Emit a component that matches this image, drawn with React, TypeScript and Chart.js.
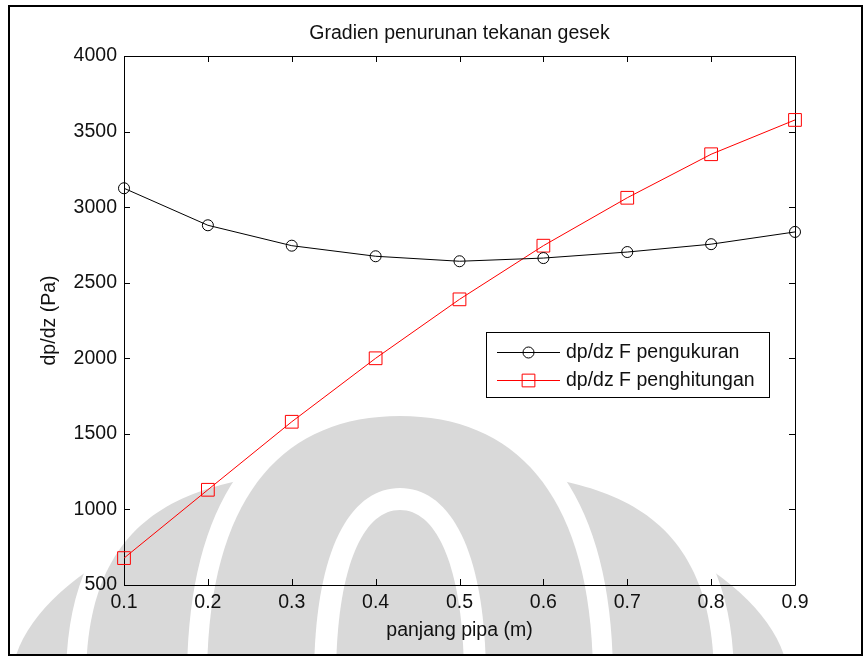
import React, { useEffect, useRef } from "react";
import { Chart, registerables } from "chart.js";

Chart.register(...registerables);

// Pipe length positions (m)
const pipeLength = [0.1, 0.2, 0.3, 0.4, 0.5, 0.6, 0.7, 0.8, 0.9];
// Measured friction pressure gradient (Pa)
const measured = [3125, 2880, 2745, 2675, 2642, 2663, 2703, 2755, 2836];
// Calculated friction pressure gradient (Pa)
const calculated = [678, 1130, 1580, 2000, 2390, 2745, 3062, 3350, 3577];

const seriesNames = ["dp/dz F pengukuran", "dp/dz F penghitungan"];
const titleText = "Gradien penurunan tekanan gesek";
const xLabelText = "panjang pipa (m)";
const yLabelText = "dp/dz (Pa)";

const X_MIN = 0.1;
const X_MAX = 0.9;
const Y_MIN = 500;
const Y_MAX = 4000;

const FONT_FAMILY = '"Liberation Sans", Arial, Helvetica, sans-serif';
const FONT_SIZE = 19.5;
const TEXT_COLOR = "#111";
const MARK_GRAY = "#d9d9d9";

// Symmetric dome outline used for the faded logo in the background.
function dome(
  ctx: CanvasRenderingContext2D,
  cx: number,
  yb: number,
  w: number,
  yt: number,
  c1y: number,
  k: number
) {
  ctx.beginPath();
  ctx.moveTo(cx - w, yb);
  ctx.bezierCurveTo(cx - w, c1y, cx - k, yt, cx, yt);
  ctx.bezierCurveTo(cx + k, yt, cx + w, c1y, cx + w, yb);
  ctx.closePath();
}

const backgroundLogo = {
  id: "backgroundLogo",
  beforeDraw(chart: Chart) {
    const ctx = chart.ctx;
    ctx.save();
    ctx.fillStyle = "#fff";
    ctx.fillRect(0, 0, chart.width, chart.height);
    ctx.beginPath();
    ctx.rect(10, 7, 852, 647);
    ctx.clip();
    const cx = 400;
    const yb = 680;
    // outer lobes
    ctx.fillStyle = MARK_GRAY;
    dome(ctx, cx, yb, 388, 485, 590, 220);
    ctx.fill();
    // middle lobes
    dome(ctx, cx, yb, 314, 470, 480, 170);
    ctx.strokeStyle = "#fff";
    ctx.lineWidth = 40;
    ctx.stroke();
    ctx.fill();
    // central dome
    dome(ctx, cx, yb, 193, 416, 500, 120);
    ctx.lineWidth = 40;
    ctx.stroke();
    ctx.fill();
    // inner arch
    dome(ctx, cx, yb, 86, 488, 550, 50);
    ctx.fillStyle = "#fff";
    ctx.fill();
    dome(ctx, cx, yb, 64, 510, 570, 38);
    ctx.fillStyle = MARK_GRAY;
    ctx.fill();
    ctx.restore();
  },
};

const axesFrame = {
  id: "axesFrame",
  beforeDatasetsDraw(chart: Chart) {
    const { ctx, chartArea: a, scales } = chart;
    const tick = 6;
    ctx.save();
    ctx.strokeStyle = "#000";
    ctx.lineWidth = 1;
    ctx.beginPath();
    ctx.rect(Math.round(a.left) + 0.5, Math.round(a.top) + 0.5, Math.round(a.right - a.left), Math.round(a.bottom - a.top));
    ctx.stroke();
    ctx.beginPath();
    for (const t of scales.x.ticks) {
      const px = Math.round(scales.x.getPixelForValue(t.value)) + 0.5;
      ctx.moveTo(px, a.bottom);
      ctx.lineTo(px, a.bottom - tick);
      ctx.moveTo(px, a.top);
      ctx.lineTo(px, a.top + tick);
    }
    for (const t of scales.y.ticks) {
      const py = Math.round(scales.y.getPixelForValue(t.value)) + 0.5;
      ctx.moveTo(a.left, py);
      ctx.lineTo(a.left + tick, py);
      ctx.moveTo(a.right, py);
      ctx.lineTo(a.right - tick, py);
    }
    ctx.stroke();
    ctx.restore();
  },
};

const legendBox = {
  id: "legendBox",
  afterDatasetsDraw(chart: Chart) {
    const ctx = chart.ctx;
    const x0 = 486;
    const y0 = 332;
    const w = 283;
    const h = 65;
    ctx.save();
    ctx.fillStyle = "#fff";
    ctx.fillRect(x0, y0, w, h);
    ctx.strokeStyle = "#000";
    ctx.lineWidth = 1;
    ctx.strokeRect(x0 + 0.5, y0 + 0.5, w, h);
    ctx.font = `${FONT_SIZE}px ${FONT_FAMILY}`;
    ctx.textBaseline = "middle";
    ctx.textAlign = "left";
    const rows = [y0 + 20, y0 + 48];
    chart.data.datasets.forEach((ds: any, i: number) => {
      const y = rows[i] + 0.5;
      ctx.strokeStyle = ds.borderColor;
      ctx.lineWidth = 1;
      ctx.beginPath();
      ctx.moveTo(x0 + 11, y);
      ctx.lineTo(x0 + 74, y);
      ctx.stroke();
      const mx = x0 + 42.5;
      ctx.beginPath();
      if (ds.pointStyle === "circle") {
        ctx.arc(mx, y, ds.pointRadius, 0, Math.PI * 2);
      } else {
        const s = Math.SQRT1_2 * ds.pointRadius;
        ctx.rect(mx - s, y - s, 2 * s, 2 * s);
      }
      ctx.stroke();
      ctx.fillStyle = TEXT_COLOR;
      ctx.fillText(ds.label, x0 + 80, rows[i] + 1);
    });
    ctx.restore();
  },
};

const figureText = {
  id: "figureText",
  afterDraw(chart: Chart) {
    const { ctx, chartArea: a } = chart;
    const cxA = (a.left + a.right) / 2;
    const cyA = (a.top + a.bottom) / 2;
    ctx.save();
    ctx.fillStyle = TEXT_COLOR;
    ctx.font = `${FONT_SIZE}px ${FONT_FAMILY}`;
    ctx.textAlign = "center";
    ctx.textBaseline = "middle";
    ctx.fillText(titleText, cxA, 34);
    ctx.fillText(xLabelText, cxA, 631);
    ctx.translate(50, cyA);
    ctx.rotate(-Math.PI / 2);
    ctx.fillText(yLabelText, 0, 0);
    ctx.restore();
    // figure border
    ctx.save();
    ctx.strokeStyle = "#000";
    ctx.lineWidth = 2;
    ctx.strokeRect(9, 6, 853, 649);
    ctx.restore();
  },
};

export default function App() {
  const canvasRef = useRef<HTMLCanvasElement>(null);

  useEffect(() => {
    document.body.style.margin = "0";
    const canvas = canvasRef.current;
    if (!canvas) return;

    const chart = new Chart(canvas, {
      type: "line",
      data: {
        datasets: [
          {
            label: seriesNames[0],
            data: pipeLength.map((x, i) => ({ x, y: measured[i] })),
            borderColor: "#000",
            borderWidth: 1,
            pointStyle: "circle",
            pointRadius: 5.5,
            pointBorderWidth: 1,
            pointBorderColor: "#000",
            pointBackgroundColor: "rgba(0,0,0,0)",
            tension: 0,
            clip: false,
          },
          {
            label: seriesNames[1],
            data: pipeLength.map((x, i) => ({ x, y: calculated[i] })),
            borderColor: "#ff0000",
            borderWidth: 1,
            pointStyle: "rect",
            pointRadius: 9,
            pointBorderWidth: 1,
            pointBorderColor: "#ff0000",
            pointBackgroundColor: "rgba(0,0,0,0)",
            tension: 0,
            clip: false,
          },
        ],
      } as any,
      options: {
        animation: false,
        responsive: false,
        devicePixelRatio: 1,
        layout: { padding: { left: 0, top: 56, right: 69, bottom: 0 } },
        plugins: {
          legend: { display: false },
          title: { display: false },
          tooltip: { enabled: false },
        },
        scales: {
          x: {
            type: "linear",
            min: X_MIN,
            max: X_MAX,
            grid: { display: false, drawTicks: false },
            border: { display: false },
            ticks: {
              stepSize: 0.1,
              padding: 6,
              color: TEXT_COLOR,
              font: { family: FONT_FAMILY, size: FONT_SIZE },
              maxRotation: 0,
              autoSkip: false,
              callback: (v: any) => Number(v).toFixed(1),
            },
            afterFit: (s: any) => {
              s.height = 72;
            },
          },
          y: {
            type: "linear",
            min: Y_MIN,
            max: Y_MAX,
            grid: { display: false, drawTicks: false },
            border: { display: false },
            ticks: {
              stepSize: 500,
              padding: 7,
              color: TEXT_COLOR,
              font: { family: FONT_FAMILY, size: FONT_SIZE },
              callback: (v: any) => String(v),
            },
            afterFit: (s: any) => {
              s.width = 124;
            },
          },
        },
      },
      plugins: [backgroundLogo, axesFrame, legendBox, figureText],
    });

    return () => chart.destroy();
  }, []);

  return (
    <canvas
      ref={canvasRef}
      width={864}
      height={657}
      style={{ display: "block", width: 864, height: 657 }}
    />
  );
}
